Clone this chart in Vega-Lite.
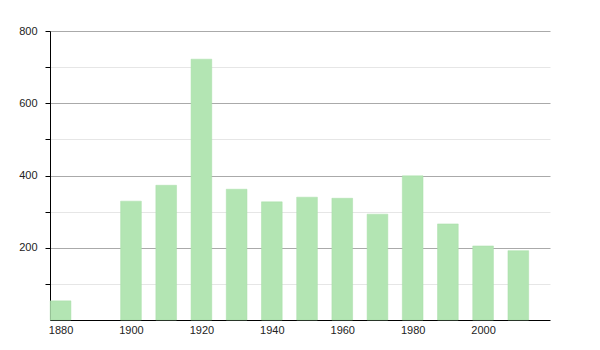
{
  "$schema": "https://vega.github.io/schema/vega-lite/v6.json",
  "autosize": "none",
  "width": 500,
  "height": 289,
  "padding": {"left": 50, "top": 31, "right": 50, "bottom": 30},
  "background": "white",
  "config": {"view": {"stroke": null}, "font": "Liberation Sans"},
  "data": {"values": [
    {"year": 1880, "pop": 53},
    {"year": 1900, "pop": 329},
    {"year": 1910, "pop": 373},
    {"year": 1920, "pop": 722},
    {"year": 1930, "pop": 362},
    {"year": 1940, "pop": 327},
    {"year": 1950, "pop": 340},
    {"year": 1960, "pop": 337},
    {"year": 1970, "pop": 293},
    {"year": 1980, "pop": 399},
    {"year": 1990, "pop": 266},
    {"year": 2000, "pop": 205},
    {"year": 2010, "pop": 192}
  ]},
  "mark": {"type": "bar", "size": 20.7, "color": "#b3e5b3", "stroke": "#a9dfa9", "strokeWidth": 0.5},
  "encoding": {
    "x": {
      "field": "year", "type": "quantitative",
      "scale": {"domain": [1877, 2019], "nice": false, "zero": false, "padding": 0},
      "axis": {
        "title": null, "values": [1880, 1900, 1920, 1940, 1960, 1980, 2000],
        "format": "d", "grid": false, "ticks": false, "labelPadding": 4,
        "domainColor": "#000", "labelColor": "#222", "labelFontSize": 11,
        "labelFlush": false
      }
    },
    "y": {
      "field": "pop", "type": "quantitative",
      "scale": {"domain": [0, 800], "nice": false},
      "axis": {
        "title": null, "values": [100, 200, 300, 400, 500, 600, 700, 800],
        "labelExpr": "datum.value % 200 === 0 ? datum.label : ''",
        "tickColor": "#000", "tickSize": 5, "domainColor": "#000",
        "labelColor": "#222", "labelFontSize": 11, "labelPadding": 8,
        "gridColor": {"condition": {"test": "datum.value % 200 === 0", "value": "#aaaaaa"}, "value": "#e6e6e6"}
      }
    }
  }
}
